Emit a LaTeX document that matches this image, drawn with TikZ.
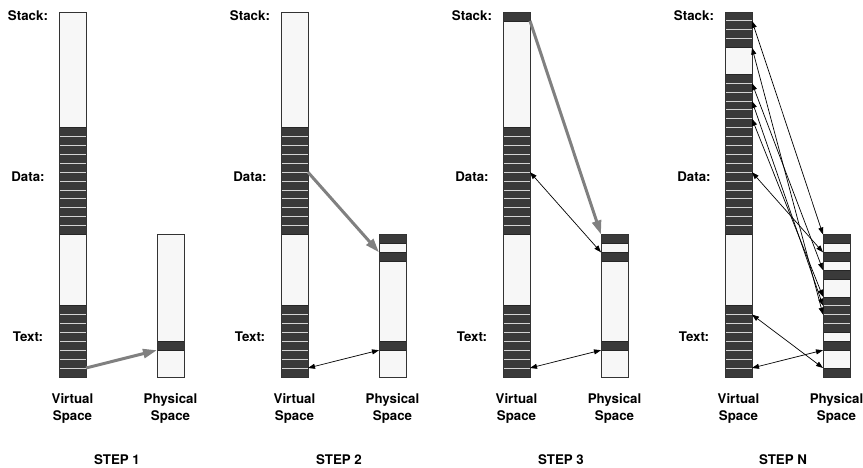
\documentclass[tikz,border=0pt]{standalone}
\usepackage{fontspec}
\setmainfont{TeX Gyre Heros}
\usetikzlibrary{arrows.meta}
\definecolor{darkcell}{HTML}{3A3A3A}
\definecolor{lightcell}{HTML}{F7F7F7}
\definecolor{sepline}{HTML}{D4D4D4}
\definecolor{greyarrow}{HTML}{808080}
\newcommand{\cellh}{8.9}
% #1 name, #2 left x, #3 top y, #4 number of cells, #5 dark runs a/b, #6 x offset of link coordinates
\newcommand{\memcolumn}[6]{%
  \fill[lightcell] (#2,#3) rectangle ({#2+27},{#3+#4*\cellh});
  \foreach \a/\b in {#5}{%
    \fill[darkcell] (#2,{#3+\a*\cellh}) rectangle ({#2+27},{#3+(\b+1)*\cellh});
    \foreach \k in {\a,...,\b}{%
      \ifnum\k>\a\relax
        \draw[sepline,line width=0.9pt] (#2,{#3+\k*\cellh}) -- ({#2+27},{#3+\k*\cellh});
      \fi}%
    \draw[black!85,line width=0.5pt] (#2,{#3+\a*\cellh}) rectangle ({#2+27},{#3+(\b+1)*\cellh});
  }%
  \draw[black!80,line width=0.7pt] (#2,#3) rectangle ({#2+27},{#3+#4*\cellh});
  \foreach \k in {0,...,#4}{\coordinate (#1-\k) at ({#2+#6},{#3+\k*\cellh});}%
}
\tikzset{
  maparrow/.style={draw=greyarrow, line width=3pt, -{Triangle[length=14pt,width=9pt,fill=greyarrow]}},
  linkarrow/.style={draw=black, line width=0.7pt, {Triangle[length=7pt,width=5pt]}-{Triangle[length=7pt,width=5pt]}},
  lbl/.style={font=\bfseries\fontsize{13.3}{16}\selectfont, inner sep=0pt, anchor=base},
}
\begin{document}
\begin{tikzpicture}[x=1pt,y=-1pt]
\useasboundingbox (0,0) rectangle (863,468);
% STEP 1
\memcolumn{V1}{59}{12}{41}{13/24,33/40}{27}
\memcolumn{P1}{157}{234.5}{16}{12/12}{0}
% STEP 2
\memcolumn{V2}{281}{12}{41}{13/24,33/40}{27}
\memcolumn{P2}{379}{234.5}{16}{0/0,2/2,12/12}{0}
% STEP 3
\memcolumn{V3}{503}{12}{41}{0/0,13/24,33/40}{27}
\memcolumn{P3}{601}{234.5}{16}{0/0,2/2,12/12}{0}
% STEP N
\memcolumn{V4}{725}{12}{41}{0/3,7/24,33/40}{27}
\memcolumn{P4}{823}{234.5}{16}{0/0,2/2,4/4,7/10,12/12,15/15}{0}
% labels
\foreach \s/\off/\t in {1/0/1,2/222/2,3/444/3,4/666/N}{
  \node[lbl] (stack\s) at (28+\off,21) {Stack:};
  \node[lbl] (data\s) at (28+\off,181.7) {Data:};
  \node[lbl] (text\s) at (28+\off,341.7) {Text:};
  \node[lbl] (virt\s) at (72.5+\off,403) {Virtual};
  \node[lbl] (vspace\s) at (72.5+\off,420) {Space};
  \node[lbl] (phys\s) at (170.5+\off,403) {Physical};
  \node[lbl] (pspace\s) at (170.5+\off,420) {Space};
  \node[lbl] (step\s) at (117+\off,464.3) {STEP \t};
}
% STEP 1 arrows
\draw[maparrow] (V1-40) -- (P1-13);
% STEP 2 arrows
\draw[maparrow] (V2-18) -- (P2-2);
\draw[linkarrow] (V2-40) -- (P2-13);
% STEP 3 arrows
\draw[maparrow] (V3-1) -- (P3-0);
\draw[linkarrow] (V3-18) -- (P3-2);
\draw[linkarrow] (V3-40) -- (P3-13);
% STEP N arrows
\draw[linkarrow] (V4-1) -- (P4-0);
\draw[linkarrow] (V4-4) -- (P4-9);
\draw[linkarrow] (V4-8) -- (P4-4);
\draw[linkarrow] (V4-10) -- (P4-8);
\draw[linkarrow] (V4-12) -- (P4-7);
\draw[linkarrow] (V4-18) -- (P4-2);
\draw[linkarrow] (V4-34) -- (P4-15);
\draw[linkarrow] (V4-40) -- (P4-13);
\end{tikzpicture}
\end{document}
